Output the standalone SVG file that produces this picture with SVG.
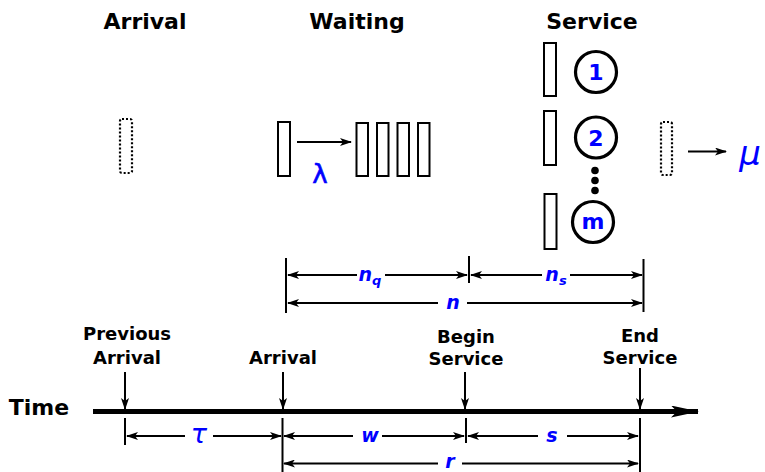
<svg xmlns="http://www.w3.org/2000/svg" width="765" height="472" viewBox="0 0 765 472">
<style>
.t{font-family:"DejaVu Sans","Liberation Sans",sans-serif;font-weight:bold;fill:#000;text-anchor:middle}
.h{font-size:22px}
.l{font-size:18px}
.v{font-family:"DejaVu Sans","Liberation Sans",sans-serif;font-weight:bold;font-style:italic;fill:#0000ff;text-anchor:middle;font-size:19px}
.g{font-family:"DejaVu Sans","Liberation Sans",sans-serif;fill:#0000ff;text-anchor:middle}
.d{font-family:"DejaVu Sans","Liberation Sans",sans-serif;font-weight:bold;fill:#0000ff;text-anchor:middle;font-size:22px}
.box{fill:#fff;stroke:#000;stroke-width:2}
.dot{fill:#fff;stroke:#000;stroke-width:2.2;stroke-dasharray:2 2}
.srv{fill:#fff;stroke:#000;stroke-width:3.2}
.ln{stroke:#000;stroke-width:2;fill:none}
.ar{stroke:#000;stroke-width:2;fill:none;marker-end:url(#ah)}
</style>
<defs>
<marker id="ah" viewBox="0 0 12 8" refX="11" refY="4" markerWidth="12" markerHeight="8" markerUnits="userSpaceOnUse" orient="auto">
<path d="M0,0 L12,4 L0,8 L3,4 z" fill="#000"/>
</marker>
<marker id="big" viewBox="0 0 28 12" refX="27" refY="6" markerWidth="28" markerHeight="12" markerUnits="userSpaceOnUse" orient="auto">
<path d="M0,0 L28,6 L0,12 L6,6 z" fill="#000"/>
</marker>
</defs>

<g id="titles">
<text class="t h" x="145" y="29">Arrival</text>
<text class="t h" x="357" y="29">Waiting</text>
<text class="t h" x="592" y="29">Service</text>
</g>

<g id="arrival-box">
<rect class="dot" x="120" y="119" width="12" height="54" rx="2"/>
</g>

<g id="waiting">
<rect class="box" x="278" y="122" width="12" height="54"/>
<rect class="box" x="356.5" y="123" width="11.5" height="53"/>
<rect class="box" x="377" y="123" width="11.5" height="53"/>
<rect class="box" x="397.5" y="123" width="11.5" height="53"/>
<rect class="box" x="418" y="123" width="11.5" height="53"/>
<text class="g" x="320" y="183" font-size="26" stroke="#0000ff" stroke-width="0.6">λ</text>
</g>

<g id="service">
<rect class="box" x="544" y="43" width="12" height="53"/>
<rect class="box" x="544" y="111" width="12" height="54"/>
<rect class="box" x="544.5" y="194" width="12" height="55"/>
<circle class="srv" cx="596" cy="72" r="20.5"/>
<circle class="srv" cx="596" cy="137.5" r="20.5"/>
<circle class="srv" cx="593" cy="222" r="20.5"/>
<circle cx="595" cy="170.5" r="3.8"/>
<circle cx="595" cy="180.5" r="3.8"/>
<circle cx="595" cy="190.5" r="3.8"/>
<text class="d" x="596" y="80">1</text>
<text class="d" x="596" y="145.5">2</text>
<text class="d" x="593" y="229">m</text>
</g>

<g id="departure">
<rect class="dot" x="661" y="122" width="11" height="53" rx="2"/>
<text class="g" x="750" y="165" font-size="34" font-style="italic">μ</text>
</g>

<g id="time-axis">
<text class="t h" x="39" y="415">Time</text>
<text class="t l" x="127" y="340">Previous</text>
<text class="t l" x="127" y="364">Arrival</text>
<text class="t l" x="283" y="364">Arrival</text>
<text class="t l" x="466" y="343">Begin</text>
<text class="t l" x="466" y="365">Service</text>
<text class="t l" x="640" y="342">End</text>
<text class="t l" x="640" y="364">Service</text>
</g>

<g id="connectors">
<line class="ar" x1="297" y1="142" x2="351" y2="142"/>
<line class="ar" x1="688" y1="151.5" x2="726" y2="151.5"/>
<line x1="93" y1="411.5" x2="698" y2="411.5" stroke="#000" stroke-width="5" marker-end="url(#big)"/>
<line class="ar" x1="125" y1="372" x2="125" y2="409"/>
<line class="ar" x1="283" y1="372" x2="283" y2="409"/>
<line class="ar" x1="465" y1="372" x2="465" y2="409"/>
<line class="ar" x1="640" y1="368" x2="640" y2="409"/>

<line class="ln" x1="286" y1="258" x2="286" y2="313"/>
<line class="ln" x1="469" y1="256" x2="469" y2="283"/>
<line class="ln" x1="643.5" y1="259" x2="643.5" y2="312"/>
<line class="ar" x1="357" y1="275" x2="288" y2="275"/>
<line class="ar" x1="385" y1="275" x2="467" y2="275"/>
<line class="ar" x1="542" y1="275" x2="471" y2="275"/>
<line class="ar" x1="570" y1="275" x2="642" y2="275"/>
<line class="ar" x1="438" y1="303" x2="288" y2="303"/>
<line class="ar" x1="467" y1="303" x2="642" y2="303"/>

<line class="ln" x1="125" y1="418" x2="125" y2="445"/>
<line class="ln" x1="282.5" y1="418" x2="282.5" y2="472"/>
<line class="ln" x1="466" y1="418" x2="466" y2="443"/>
<line class="ln" x1="640" y1="418" x2="640" y2="472"/>
<line class="ar" x1="185" y1="436" x2="127" y2="436"/>
<line class="ar" x1="213" y1="436" x2="281" y2="436"/>
<line class="ar" x1="353" y1="436" x2="284" y2="436"/>
<line class="ar" x1="382" y1="436" x2="464" y2="436"/>
<line class="ar" x1="538" y1="436" x2="468" y2="436"/>
<line class="ar" x1="567" y1="436" x2="638" y2="436"/>
<line class="ar" x1="438" y1="463.5" x2="284" y2="463.5"/>
<line class="ar" x1="462" y1="463.5" x2="638" y2="463.5"/>
</g>

<g id="dim-labels">
<text class="v" x="370" y="281">n<tspan font-size="13" dy="4">q</tspan></text>
<text class="v" x="556" y="281">n<tspan font-size="13" dy="4">s</tspan></text>
<text class="v" x="453" y="309">n</text>
<text class="g" x="199" y="443" font-size="27" font-style="italic">τ</text>
<text class="v" x="370" y="442">w</text>
<text class="v" x="552" y="442">s</text>
<text class="v" x="450" y="468">r</text>
</g>
</svg>
